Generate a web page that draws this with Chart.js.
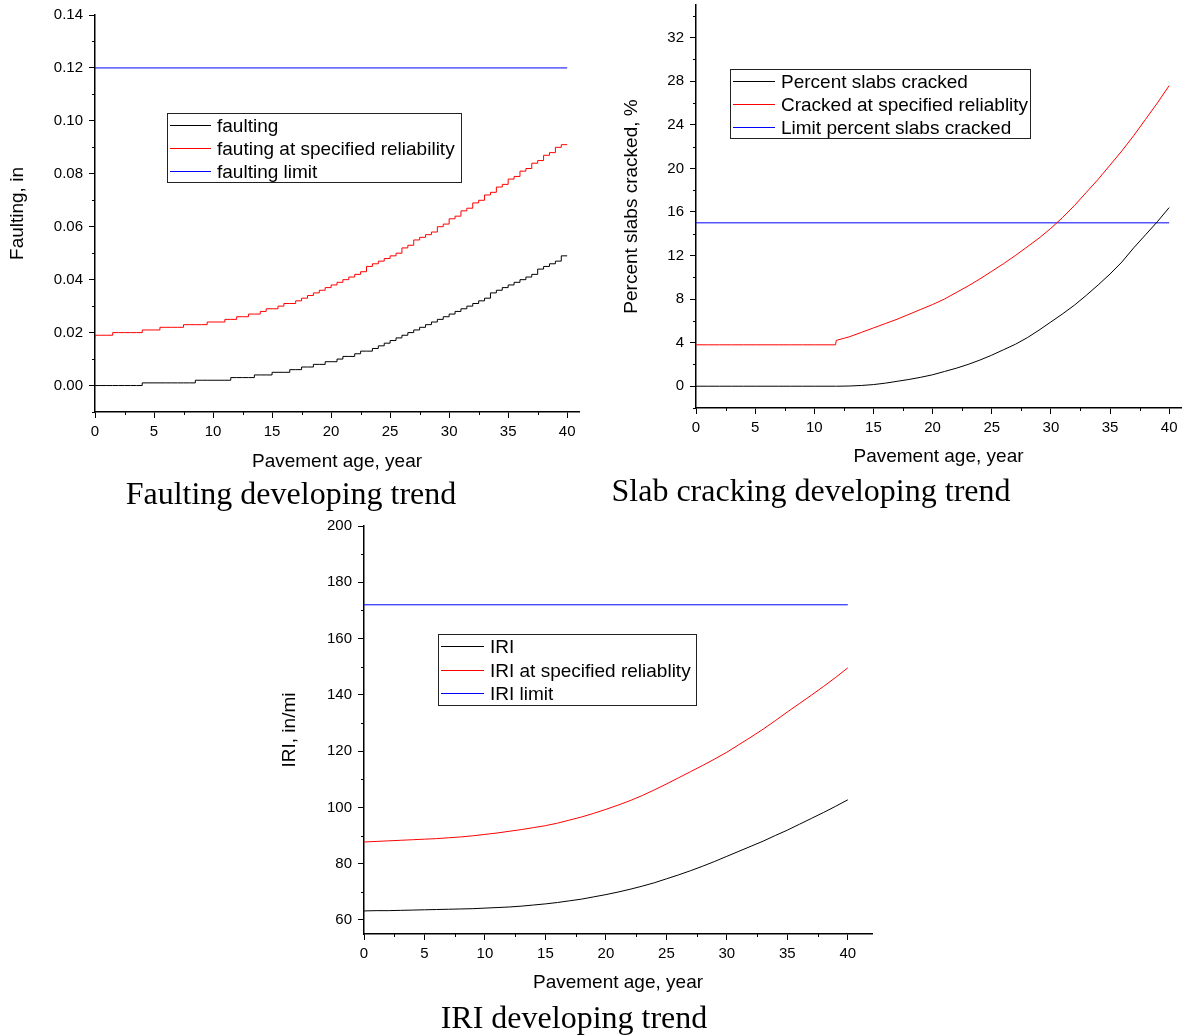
<!DOCTYPE html>
<html>
<head>
<meta charset="utf-8">
<script src="https://cdn.jsdelivr.net/npm/chart.js@4.4.1/dist/chart.umd.min.js"></script>
<style>
  body { margin: 0; background: #fff; width: 1190px; height: 1036px; position: relative; overflow: hidden; }
  canvas { position: absolute; }
  .cap { position: absolute; width: 500px; font-family: "Liberation Serif", "Times New Roman", serif; font-size: 32px; line-height: 34px; text-align: center; color: #000; white-space: nowrap; }
</style>
</head>
<body>
<canvas id="cFault" width="600" height="480" style="left:0;top:0"></canvas>
<canvas id="cCrack" width="590" height="480" style="left:600px;top:0"></canvas>
<canvas id="cIri" width="620" height="500" style="left:270px;top:500px"></canvas>
<div class="cap" style="left:41px;top:476px">Faulting developing trend</div>
<div class="cap" style="left:561px;top:473px">Slab cracking developing trend</div>
<div class="cap" style="left:324px;top:1000px">IRI developing trend</div>
<script>
// años (eje x)
const edades = [0,1,2,3,4,5,6,7,8,9,10,11,12,13,14,15,16,17,18,19,20,21,22,23,24,25,26,27,28,29,30,31,32,33,34,35,36,37,38,39,40];
const mediosAnios = [0,0.5,1,1.5,2,2.5,3,3.5,4,4.5,5,5.5,6,6.5,7,7.5,8,8.5,9,9.5,10,10.5,11,11.5,12,12.5,13,13.5,14,14.5,15,15.5,16,16.5,17,17.5,18,18.5,19,19.5,20,20.5,21,21.5,22,22.5,23,23.5,24,24.5,25,25.5,26,26.5,27,27.5,28,28.5,29,29.5,30,30.5,31,31.5,32,32.5,33,33.5,34,34.5,35,35.5,36,36.5,37,37.5,38,38.5,39,39.5,40];
const limiteEdades = [0, 40];

// Faulting (cada medio año, escalones de 0.001)
const faulting = [0,0,0,0,0,0,0,0,0,0.001,0.001,0.001,0.001,0.001,0.001,0.001,0.001,0.001,0.002,0.002,0.002,0.002,0.002,0.002,0.003,0.003,0.003,0.003,0.004,0.004,0.004,0.005,0.005,0.005,0.006,0.006,0.007,0.007,0.008,0.008,0.009,0.009,0.010,0.011,0.011,0.012,0.013,0.013,0.014,0.015,0.016,0.017,0.018,0.019,0.020,0.021,0.022,0.023,0.024,0.025,0.026,0.027,0.028,0.029,0.030,0.031,0.032,0.033,0.035,0.036,0.037,0.038,0.039,0.040,0.041,0.042,0.044,0.045,0.046,0.047,0.049];
const faultingRel = [0.018,0.019,0.019,0.019,0.020,0.020,0.020,0.020,0.020,0.021,0.021,0.021,0.022,0.022,0.022,0.022,0.023,0.023,0.023,0.023,0.024,0.024,0.024,0.025,0.025,0.026,0.026,0.027,0.027,0.028,0.029,0.029,0.030,0.031,0.031,0.032,0.033,0.034,0.035,0.036,0.037,0.038,0.039,0.040,0.041,0.042,0.043,0.045,0.046,0.047,0.048,0.049,0.050,0.052,0.053,0.055,0.056,0.057,0.058,0.060,0.061,0.063,0.064,0.066,0.067,0.069,0.070,0.072,0.073,0.075,0.076,0.078,0.079,0.081,0.082,0.084,0.085,0.087,0.088,0.090,0.091];
const faultingLimite = [0.12, 0.12];
const faultTicksX = [0,5,10,15,20,25,30,35,40];
const faultMinorX = [2.5,7.5,12.5,17.5,22.5,27.5,32.5,37.5];
const faultTicksY = [0,0.02,0.04,0.06,0.08,0.10,0.12,0.14];
const faultMinorY = [-0.01,0.01,0.03,0.05,0.07,0.09,0.11,0.13];

// Slab cracking
const edadesGrieta = [0,1,2,3,4,5,6,7,8,9,10,11,11.8,11.85,12,13,14,15,16,17,18,19,20,21,22,23,24,25,26,27,28,29,30,31,32,33,34,35,36,37,38,39,40];
const grietas = [0,0,0,0,0,0,0,0,0,0,0,0,0,0,0,0.02,0.07,0.15,0.28,0.45,0.62,0.82,1.05,1.35,1.65,2.0,2.4,2.85,3.35,3.85,4.45,5.15,5.9,6.65,7.45,8.35,9.3,10.3,11.4,12.7,13.9,15.1,16.4];
const grietasRel = [3.8,3.8,3.8,3.8,3.8,3.8,3.8,3.8,3.8,3.8,3.8,3.8,3.8,4.2,4.25,4.55,4.95,5.35,5.75,6.15,6.6,7.05,7.5,8.0,8.6,9.2,9.85,10.55,11.25,12.0,12.8,13.6,14.5,15.5,16.6,17.8,19.0,20.3,21.6,23.0,24.5,26.0,27.6];
const grietasLimite = [15, 15];
const crackTicksY = [0,4,8,12,16,20,24,28,32];
const crackMinorY = [-2,2,6,10,14,18,22,26,30,34];

// IRI
const iri = [63.2,63.3,63.3,63.4,63.5,63.6,63.7,63.8,63.9,64.0,64.2,64.4,64.6,64.9,65.3,65.7,66.2,66.8,67.4,68.2,69.0,69.9,70.9,72.0,73.2,74.6,76.0,77.5,79.1,80.8,82.6,84.4,86.2,88.0,90.0,91.9,94.0,96.1,98.2,100.4,102.7];
const iriRel = [87.7,87.9,88.1,88.3,88.5,88.7,88.9,89.2,89.5,89.9,90.4,90.9,91.5,92.1,92.8,93.5,94.4,95.5,96.6,97.9,99.3,100.8,102.4,104.2,106.2,108.3,110.5,112.7,114.9,117.2,119.6,122.3,125.0,127.8,130.8,133.9,136.9,139.9,143.0,146.2,149.6];
const iriLimite = [172, 172];
const iriTicksY = [60,80,100,120,140,160,180,200];
const iriMinorY = [70,90,110,130,150,170,190];

const FUENTE = '"Liberation Sans", Arial, sans-serif';

function puntos(xs, ys) {
    return xs.map((x, i) => ({ x, y: ys[i] }));
}

// ticks menores
const minorTicks = {
    id: "minorTicks",
    afterDraw(chart, args, o) {
        const ctx = chart.ctx;
        const sx = chart.scales.x, sy = chart.scales.y;
        ctx.save();
        ctx.strokeStyle = "#000";
        ctx.lineWidth = 1;
        (o.x || []).forEach(v => {
            const px = Math.round(sx.getPixelForValue(v)) + 0.5;
            ctx.beginPath(); ctx.moveTo(px, sx.top); ctx.lineTo(px, sx.top + o.len); ctx.stroke();
        });
        (o.y || []).forEach(v => {
            const py = Math.round(sy.getPixelForValue(v)) + 0.5;
            ctx.beginPath(); ctx.moveTo(sy.right - o.len, py); ctx.lineTo(sy.right, py); ctx.stroke();
        });
        ctx.restore();
    }
};

// leyenda en caja
const boxLegend = {
    id: "boxLegend",
    afterDraw(chart, args, o) {
        const ctx = chart.ctx;
        ctx.save();
        ctx.lineWidth = 1;
        ctx.strokeStyle = "#222";
        ctx.strokeRect(o.x + 0.5, o.y + 0.5, o.w, o.h);
        ctx.font = "19px " + FUENTE;
        ctx.textBaseline = "middle";
        ctx.fillStyle = "#000";
        chart.data.datasets.forEach((ds, i) => {
            const cy = Math.round(o.y + o.first + i * o.gap) + 0.5;
            ctx.strokeStyle = ds.borderColor;
            ctx.beginPath(); ctx.moveTo(o.x + o.l1, cy); ctx.lineTo(o.x + o.l2, cy); ctx.stroke();
            ctx.fillText(ds.label, o.x + o.tx, cy + 1);
        });
        ctx.restore();
    }
};

function crearGrafico(id, c) {
    return new Chart(document.getElementById(id), {
        type: "line",
        data: { datasets: c.datasets.map(d => ({
            label: d.label,
            data: d.data,
            borderColor: d.color,
            borderWidth: 1,
            pointRadius: 0,
            tension: 0,
            stepped: d.stepped || false,
            fill: false
        })) },
        options: {
            responsive: false,
            animation: false,
            devicePixelRatio: 1,
            layout: { padding: { left: 0, top: c.top, right: c.right, bottom: 0 } },
            plugins: {
                legend: { display: false },
                tooltip: { enabled: false },
                minorTicks: { x: c.minorX, y: c.minorY, len: 3 },
                boxLegend: c.legend
            },
            scales: {
                x: {
                    type: "linear",
                    min: 0, max: c.xMax,
                    afterBuildTicks: s => { s.ticks = c.ticksX.map(v => ({ value: v })); },
                    afterFit: s => { s.height = c.xHeight; s.paddingLeft = 0; s.paddingRight = 0; },
                    grid: { drawOnChartArea: false, tickLength: 6, tickColor: "#000", tickWidth: 1 },
                    border: { color: "#000", width: 1.5 },
                    ticks: { color: "#000", padding: 5, maxRotation: 0, font: { family: FUENTE, size: 15 } },
                    title: { display: true, text: "Pavement age, year", color: "#000",
                             font: { family: FUENTE, size: 19 }, padding: { top: 0, bottom: c.xTitlePad } }
                },
                y: {
                    type: "linear",
                    min: c.yMin, max: c.yMax,
                    afterBuildTicks: s => { s.ticks = c.ticksY.map(v => ({ value: v })); },
                    afterFit: s => { s.width = c.yWidth; s.paddingTop = 0; s.paddingBottom = 0; },
                    grid: { drawOnChartArea: false, tickLength: 6, tickColor: "#000", tickWidth: 1 },
                    border: { color: "#000", width: 1.5 },
                    ticks: { color: "#000", padding: 6, font: { family: FUENTE, size: 15 }, callback: c.fmt },
                    title: { display: true, text: c.yTitle, color: "#000",
                             font: { family: FUENTE, size: 19 }, padding: { top: c.yTitlePad, bottom: 0 } }
                }
            }
        },
        plugins: [minorTicks, boxLegend]
    });
}

crearGrafico("cFault", {
    datasets: [
        { label: "faulting", data: puntos(mediosAnios, faulting), color: "#000000", stepped: "after" },
        { label: "fauting at specified reliability", data: puntos(mediosAnios, faultingRel), color: "#ff0000", stepped: "after" },
        { label: "faulting limit", data: puntos(limiteEdades, faultingLimite), color: "#0000ff" }
    ],
    xMax: 41, yMin: -0.01, yMax: 0.14,
    ticksX: faultTicksX, ticksY: faultTicksY, minorX: faultMinorX, minorY: faultMinorY,
    fmt: v => v.toFixed(2),
    top: 15, right: 21, xHeight: 68, yWidth: 95, xTitlePad: 6.5, yTitlePad: 6.5,
    yTitle: "Faulting, in",
    legend: { x: 167, y: 113, w: 294, h: 69, first: 12, gap: 23, l1: 3, l2: 44, tx: 50 }
});

crearGrafico("cCrack", {
    datasets: [
        { label: "Percent slabs cracked", data: puntos(edadesGrieta, grietas), color: "#000000" },
        { label: "Cracked at specified reliablity", data: puntos(edadesGrieta, grietasRel), color: "#ff0000" },
        { label: "Limit percent slabs cracked", data: puntos(limiteEdades, grietasLimite), color: "#0000ff" }
    ],
    xMax: 41, yMin: -2, yMax: 35,
    ticksX: faultTicksX, ticksY: crackTicksY, minorX: faultMinorX, minorY: crackMinorY,
    fmt: v => String(v),
    top: 5, right: 9, xHeight: 72, yWidth: 96, xTitlePad: 11.5, yTitlePad: 20.5,
    yTitle: "Percent slabs cracked, %",
    legend: { x: 130, y: 69, w: 300, h: 69, first: 12, gap: 23, l1: 3, l2: 45, tx: 51 }
});

crearGrafico("cIri", {
    datasets: [
        { label: "IRI", data: puntos(edades, iri), color: "#000000" },
        { label: "IRI at specified reliablity", data: puntos(edades, iriRel), color: "#ff0000" },
        { label: "IRI limit", data: puntos(limiteEdades, iriLimite), color: "#0000ff" }
    ],
    xMax: 42, yMin: 55, yMax: 200,
    ticksX: faultTicksX, ticksY: iriTicksY, minorX: faultMinorX, minorY: iriMinorY,
    fmt: v => String(v),
    top: 26, right: 18, xHeight: 66, yWidth: 94, xTitlePad: 5.5, yTitlePad: 8.5,
    yTitle: "IRI, in/mi",
    legend: { x: 168, y: 134, w: 258, h: 71, first: 12, gap: 23.5, l1: 3, l2: 46, tx: 52 }
});
</script>
</body>
</html>
